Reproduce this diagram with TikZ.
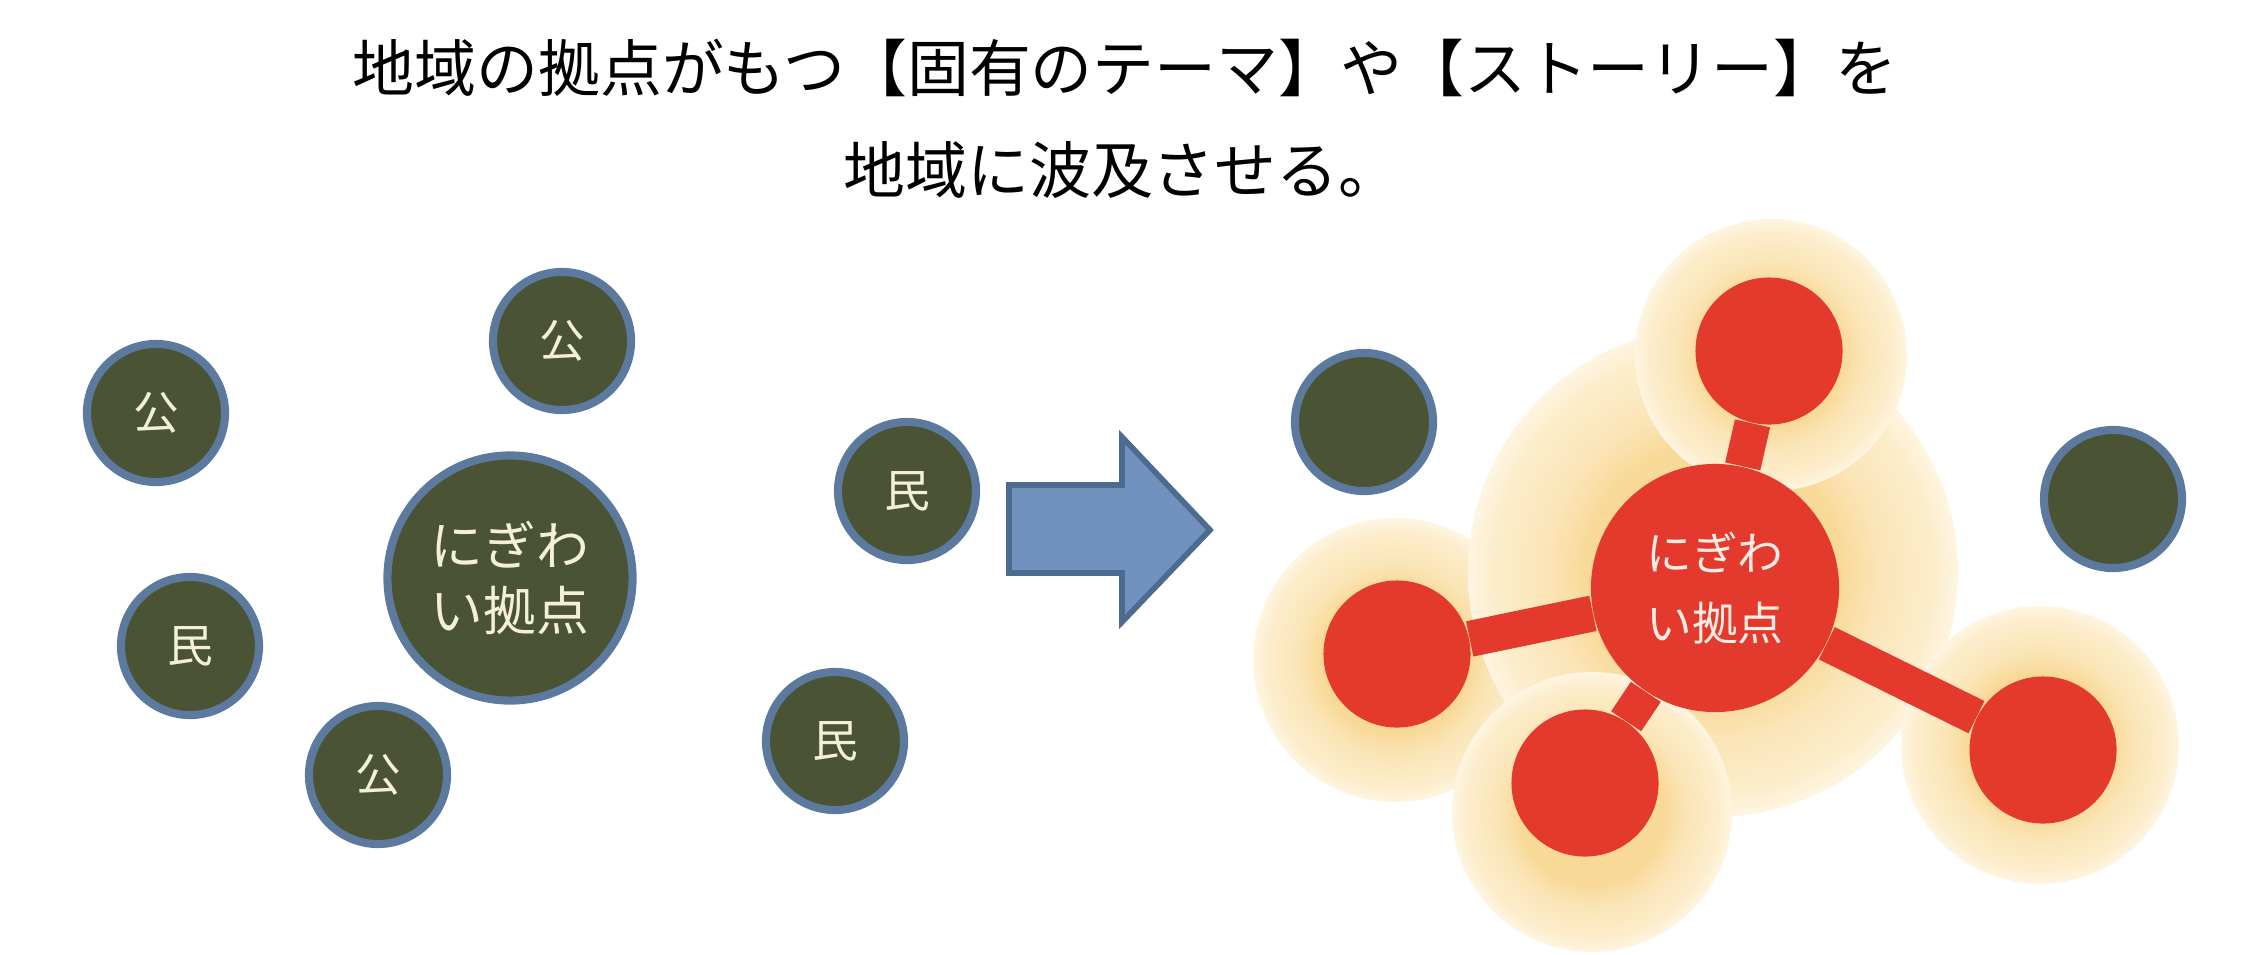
\documentclass[tikz,border=0pt]{standalone}
\usepackage{fontspec}
\usepackage{tikz}
\usetikzlibrary{positioning}
\newfontfamily\jp{Noto Sans CJK JP}

\definecolor{olivedark}{RGB}{74,83,52}
\definecolor{steelrim}{RGB}{92,122,158}
\definecolor{hubred}{RGB}{228,58,46}
\definecolor{arrowfill}{RGB}{113,145,191}
\definecolor{arrowrim}{RGB}{77,106,143}
\definecolor{cream}{RGB}{243,240,214}
\definecolor{hubtext}{RGB}{252,236,228}
\definecolor{glowin}{RGB}{248,217,152}
\definecolor{glowmid}{RGB}{251,229,183}
\definecolor{glowout}{RGB}{252,237,203}
\definecolor{glowedge}{RGB}{254,245,226}

% circle edge sits at 25bp
\pgfdeclareradialshading{glow}{\pgfpoint{0bp}{0bp}}{%
  color(0bp)=(glowin); color(13bp)=(glowin); color(17bp)=(glowmid);
  color(22.5bp)=(glowout); color(25bp)=(glowedge); color(50bp)=(glowedge)}

\tikzset{
  spot/.style={circle, fill=olivedark, draw=steelrim, line width=2.3pt,
    minimum size=1.38cm, inner sep=0pt, text=cream,
    font=\jp\fontsize{13}{16}\selectfont},
  bigspot/.style={spot, minimum size=2.45cm, align=center,
    font=\jp\fontsize{15}{18.5}\selectfont},
  redspot/.style={circle, fill=hubred, minimum size=1.47cm, inner sep=0pt},
  redhub/.style={redspot, minimum size=2.48cm, align=center, text=hubtext,
    font=\jp\fontsize{13}{20}\selectfont},
  halo/.style={shading=glow},
  spoke/.style={hubred, line width=0.36cm},
  headline/.style={font=\jp\fontsize{17.6}{29}\selectfont}
}

\begin{document}
\begin{tikzpicture}[x=0.01cm, y=-0.01cm]
\useasboundingbox (0,0) rectangle (2249,954);

% title
\node[headline] (title1) at (1125,68) {地域の拠点がもつ【固有のテーマ】や【ストーリー】を};
\node[headline] (title2) at (1122,170) {地域に波及させる。};

% before
\node[spot] (pubA) at (156,413) {公};
\node[spot] (pubB) at (562,341) {公};
\node[spot] (civA) at (190,646) {民};
\node[spot] (pubC) at (378,775) {公};
\node[spot] (civB) at (907,491) {民};
\node[spot] (civC) at (835,741) {民};
\node[bigspot] (base) at (510,578) {にぎわ\\い拠点};

% arrow
\draw[arrowrim, fill=arrowfill, line width=1.6pt, line join=miter]
  (1009,485) -- (1122,485) -- (1122,437) -- (1210,530) -- (1122,622)
  -- (1122,573) -- (1009,573) -- cycle;

% after: glow
\shade[halo] (1395,660) circle (142);
\shade[halo] (1713,572) circle (245);
\shade[halo] (1771,355) circle (136);
\shade[halo] (1592,812) circle (140);
\shade[halo] (2040,745) circle (139);

\node[spot] (restA) at (1364,422) {};
\node[spot] (restB) at (2113,499) {};

\node[redhub] (hub) at (1715,588) {にぎわ\\い拠点};
\node[redspot] (nTop) at (1769,351) {};
\node[redspot] (nLeft) at (1397,654) {};
\node[redspot] (nBottom) at (1585,783) {};
\node[redspot] (nRight) at (2043,750) {};

\foreach \n in {nTop,nLeft,nBottom,nRight}
  \draw[spoke] (hub) -- (\n);
\end{tikzpicture}
\end{document}
